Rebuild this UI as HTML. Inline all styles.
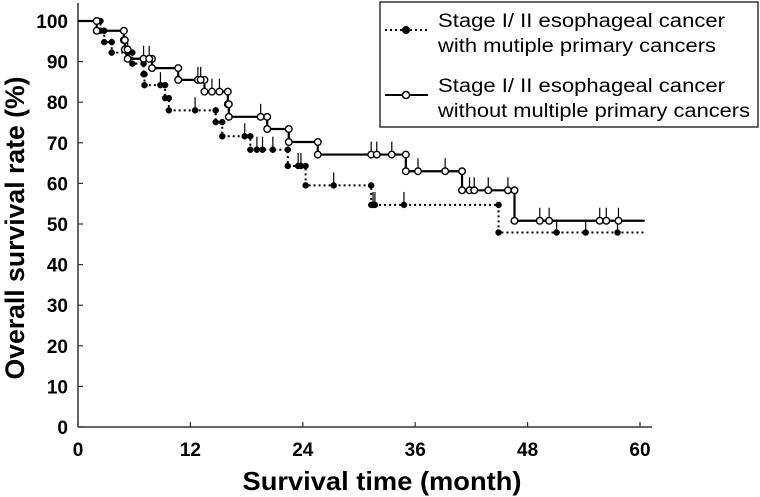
<!DOCTYPE html>
<html><head><meta charset="utf-8"><style>
html,body{margin:0;padding:0;background:#fff;}
svg{display:block;font-family:"Liberation Sans",Arial,sans-serif;}
</style></head><body>
<svg id="chart" width="760" height="497" viewBox="0 0 760 497">
<g id="axes"></g>
<g id="series"></g>
<g>
  <rect x="380" y="2" width="378" height="125" fill="#fff" stroke="#333" stroke-width="1.5"/>
  <g>
    <line x1="385" y1="30" x2="428" y2="30" stroke="#000" stroke-width="2" stroke-dasharray="2,3"/>
    <circle cx="406" cy="30" r="4" fill="#000"/>
    <text x="438" y="27" font-size="19" textLength="287" lengthAdjust="spacingAndGlyphs">Stage I/ II esophageal cancer</text>
    <text x="438" y="52" font-size="19" textLength="278" lengthAdjust="spacingAndGlyphs">with mutiple primary cancers</text>
  </g>
  <g>
    <line x1="385" y1="95" x2="428" y2="95" stroke="#000" stroke-width="2"/>
    <circle cx="406" cy="95" r="3.5" fill="#fff" stroke="#000" stroke-width="1.5"/>
    <text x="438" y="92" font-size="19" textLength="287" lengthAdjust="spacingAndGlyphs">Stage I/ II esophageal cancer</text>
    <text x="438" y="117" font-size="19" textLength="312" lengthAdjust="spacingAndGlyphs">without multiple primary cancers</text>
  </g>
</g>
<text x="382" y="490" font-size="26" font-weight="bold" text-anchor="middle" textLength="279" lengthAdjust="spacingAndGlyphs">Survival time (month)</text>
<text transform="translate(24,228) rotate(-90)" font-size="27" font-weight="bold" text-anchor="middle" textLength="303" lengthAdjust="spacingAndGlyphs">Overall survival rate (%)</text>
</svg>
<script>
// ---- data ----
const xTicks = [0, 12, 24, 36, 48, 60];
const yTicks = [0, 10, 20, 30, 40, 50, 60, 70, 80, 90, 100];
// With multiple primary cancers (dotted, filled)
const withDropTimes = [2.4, 2.8, 3.6, 5.8, 7.0, 7.1, 9.3, 9.7, 14.7, 15.4, 18.4, 22.4, 24.3, 31.3, 44.9];
const withDropValues = [97.6, 94.8, 92.2, 89.5, 86.9, 84.2, 81.0, 78.0, 75.1, 71.6, 68.3, 64.3, 59.5, 54.7, 47.9];
const withCensor = [5.3, 8.8, 12.5, 17.8, 19.1, 19.7, 20.8, 23.5, 23.8, 27.3, 31.5, 31.7, 34.8, 51.1, 54.2, 57.6];
const withEnd = 60.5;
// Without multiple primary cancers (solid, open)
const woDropTimes = [2.0, 4.9, 5.0, 5.3, 7.9, 10.7, 13.5, 16.0, 16.1, 20.2, 22.5, 25.6, 35.0, 41.0, 46.6];
const woDropValues = [97.6, 95.3, 93.0, 90.7, 88.4, 85.5, 82.6, 79.5, 76.4, 73.4, 70.2, 67.1, 63.0, 58.3, 50.8];
const woCensor = [7.0, 7.6, 12.8, 13.1, 14.3, 15.1, 19.5, 31.3, 31.9, 33.5, 36.3, 39.2, 41.8, 42.3, 43.8, 45.9, 49.3, 50.3, 55.7, 56.4, 57.7];
const woEnd = 60.5;

// ---- scales ----
const X0 = 78, X1 = 640, Y0 = 427, Y1 = 21;
const sx = m => X0 + (m / 60) * (X1 - X0);
const sy = v => Y0 - (v / 100) * (Y0 - Y1);
const NS = 'http://www.w3.org/2000/svg';
function mk(tag, attrs, parent) {
  const e = document.createElementNS(NS, tag);
  for (const k in attrs) e.setAttribute(k, attrs[k]);
  parent.appendChild(e);
  return e;
}
const axes = document.getElementById('axes');
const series = document.getElementById('series');

let ax = mk('line', {x1: X0, y1: 3, x2: X0, y2: Y0, stroke: '#333', 'stroke-width': 1.5}, axes);


ax = mk('line', {x1: X0, y1: Y0, x2: 652, y2: Y0, stroke: '#333', 'stroke-width': 1.5}, axes);



xTicks.forEach(t => {
  const tk = mk('line', {x1: sx(t), y1: Y0, x2: sx(t), y2: Y0 - 5, stroke: '#333', 'stroke-width': 1.2}, axes);
  
  
  const tx = mk('text', {x: sx(t), y: 456, 'font-size': 19, 'font-weight': 'bold', 'text-anchor': 'middle'}, axes);
  tx.textContent = t;
  
  
});
yTicks.forEach(t => {
  const tk = mk('line', {x1: X0, y1: sy(t), x2: X0 + 5, y2: sy(t), stroke: '#333', 'stroke-width': 1.2}, axes);
  
  
  const tx = mk('text', {x: 68, y: sy(t) + 7, 'font-size': 19, 'font-weight': 'bold', 'text-anchor': 'end'}, axes);
  tx.textContent = t;
  
  
});

function valueAt(times, vals, m) {
  let v = 100;
  for (let i = 0; i < times.length; i++) if (times[i] <= m) v = vals[i];
  return v;
}
function drawSeries(times, vals, censor, end, opts) {
  const g = mk('g', {}, series);
  
  
  let d = 'M' + sx(0) + ',' + sy(100);
  times.forEach((t, i) => {
    d += ' H' + sx(t) + ' V' + sy(vals[i]);
  });
  d += ' H' + sx(end);
  const p = mk('path', {d: d, fill: 'none', stroke: '#000', 'stroke-width': opts.dotted ? 2 : 2.2,
    'stroke-dasharray': opts.dotted ? '2,3' : 'none'}, g);
  
  
  censor.forEach(c => {
    const v = valueAt(times, vals, c);
    const l = mk('line', {x1: sx(c), y1: sy(v), x2: sx(c), y2: sy(v) - 13, stroke: '#000', 'stroke-width': 1.2}, g);
    
    
  });
  const pts = [];
  let pv = 100;
  times.forEach((t, i) => { pts.push([t, pv]); pts.push([t, vals[i]]); pv = vals[i]; });
  censor.forEach(c => pts.push([c, valueAt(times, vals, c)]));
  pts.forEach(pt => {
    const c = mk('circle', {cx: sx(pt[0]), cy: sy(pt[1]), r: opts.dotted ? 3 : 3.3,
      fill: opts.dotted ? '#000' : '#fff', stroke: '#000', 'stroke-width': opts.dotted ? 0.5 : 1.4}, g);
    
    
  });
}
drawSeries(withDropTimes, withDropValues, withCensor, withEnd, {name: 'series-with-mpc', dotted: true});
drawSeries(woDropTimes, woDropValues, woCensor, woEnd, {name: 'series-without-mpc', dotted: false});
</script>
</body></html>
